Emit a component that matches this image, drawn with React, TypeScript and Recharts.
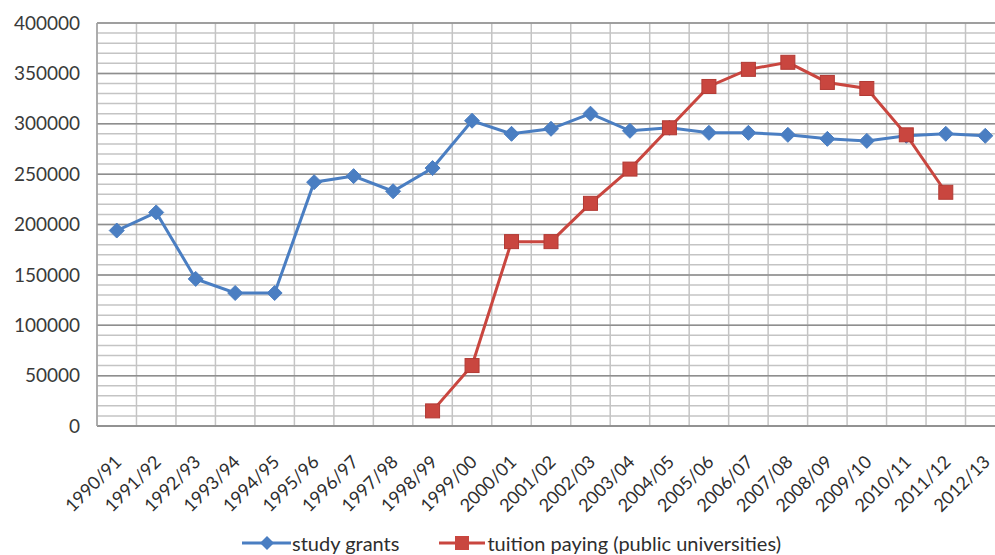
import React from 'react';
import { LineChart, Line, XAxis, YAxis, CartesianGrid, Legend } from 'recharts';

const categories = [
  '1990/91', '1991/92', '1992/93', '1993/94', '1994/95', '1995/96', '1996/97', '1997/98',
  '1998/99', '1999/00', '2000/01', '2001/02', '2002/03', '2003/04', '2004/05', '2005/06',
  '2006/07', '2007/08', '2008/09', '2009/10', '2010/11', '2011/12', '2012/13',
];

const studyGrants = [
  194000, 212000, 146000, 132000, 132000, 242000, 248000, 233000,
  256000, 303000, 290000, 295000, 310000, 293000, 296000, 291000,
  291000, 289000, 285000, 283000, 288000, 290000, 288000,
];

const tuitionPaying = [
  null, null, null, null, null, null, null, null,
  15000, 60000, 183000, 183000, 221000, 255000, 296000, 337000,
  354000, 361000, 341000, 335000, 289000, 232000, null,
];

const yTicks = [0, 50000, 100000, 150000, 200000, 250000, 300000, 350000, 400000];
const yMinor = Array.from({ length: 41 }, (_, i) => i * 10000);

const BLUE = '#4a7ec2';
const RED = '#c9463f';
const FONT = 'Lato, "Open Sans", sans-serif';

const data = categories.map((c, i) => ({
  idx: i,
  name: c,
  grants: studyGrants[i],
  tuition: tuitionPaying[i],
}));

const xTicks = categories.map((_, i) => i);
const xBounds = [...categories.map((_, i) => i - 0.5), categories.length - 0.5];

const Diamond = (props: any) => {
  const { cx, cy, index } = props;
  if (cx == null || cy == null) return <g key={`d${index}`} />;
  const r = 7.5;
  return (
    <path
      key={`d${index}`}
      d={`M${cx},${cy - r}L${cx + r},${cy}L${cx},${cy + r}L${cx - r},${cy}Z`}
      fill={BLUE}
      stroke={BLUE}
      strokeWidth={1}
    />
  );
};

const Square = (props: any) => {
  const { cx, cy, index, value } = props;
  if (cx == null || cy == null || value == null) return <g key={`s${index}`} />;
  const r = 7;
  return <rect key={`s${index}`} x={cx - r} y={cy - r} width={2 * r} height={2 * r} fill={RED} stroke="#b23a34" strokeWidth={1} />;
};

const XTick = (props: any) => {
  const { x, y, payload } = props;
  const ax = x + 6;
  const ay = y + 29;
  return (
    <text
      x={ax}
      y={ay}
      transform={`rotate(-45 ${ax} ${ay})`}
      textAnchor="end"
      fontFamily={FONT}
      fontSize={18}
      fill="#2e2e2e"
    >
      {categories[payload.value]}
    </text>
  );
};

const LegendContent = () => (
  <div
    style={{
      height: 24,
      display: 'flex',
      justifyContent: 'center',
      alignItems: 'center',
      fontFamily: FONT,
      fontSize: 20,
      color: '#2e2e2e',
      paddingLeft: 18,
    }}
  >
    <svg width={49} height={20} style={{ marginRight: 1 }}>
      <line x1={0} y1={10} x2={49} y2={10} stroke={BLUE} strokeWidth={3} />
      <path d="M25,3L32,10L25,17L18,10Z" fill={BLUE} />
    </svg>
    <span style={{ marginRight: 40 }}>study grants</span>
    <svg width={46} height={20} style={{ marginRight: 2 }}>
      <line x1={0} y1={10} x2={46} y2={10} stroke={RED} strokeWidth={3} />
      <rect x={16} y={3} width={14} height={14} fill={RED} />
    </svg>
    <span>tuition paying (public universities)</span>
  </div>
);

export default function App() {
  return (
    <div
      style={{
        position: 'fixed',
        left: 0,
        top: 0,
        width: 995,
        height: 555,
        overflow: 'hidden',
        background: '#ffffff',
      }}
    >
      <LineChart
        width={1010}
        height={555}
        data={data}
        margin={{ top: 23, right: 5, bottom: 0, left: 0 }}
      >
        <CartesianGrid
          horizontal={true}
          vertical={true}
          horizontalValues={yMinor}
          verticalValues={xBounds}
          stroke="#c4c4c4"
          strokeWidth={1.5}
        />
        <CartesianGrid
          horizontal={true}
          vertical={false}
          horizontalValues={yTicks}
          stroke="#8e8e8e"
          strokeWidth={1.5}
        />
        <XAxis
          dataKey="idx"
          type="number"
          domain={[-0.5, categories.length - 0.5]}
          ticks={xTicks}
          interval={0}
          tick={<XTick />}
          tickLine={false}
          axisLine={{ stroke: '#8e8e8e', strokeWidth: 1.5 }}
          height={105}
          allowDataOverflow
        />
        <YAxis
          type="number"
          domain={[0, 400000]}
          ticks={yTicks}
          interval={0}
          width={97}
          tickLine={false}
          axisLine={{ stroke: '#a0a0a0', strokeWidth: 1.5 }}
          tickMargin={11}
          tick={{ fontFamily: FONT, fontSize: 19, fill: '#3a3a3a' }}
        />
        <Legend verticalAlign="bottom" height={24} content={<LegendContent />} />
        <Line
          dataKey="grants"
          stroke={BLUE}
          strokeWidth={3}
          dot={<Diamond />}
          activeDot={false}
          isAnimationActive={false}
        />
        <Line
          dataKey="tuition"
          stroke={RED}
          strokeWidth={3}
          dot={<Square />}
          activeDot={false}
          isAnimationActive={false}
        />
      </LineChart>
    </div>
  );
}
